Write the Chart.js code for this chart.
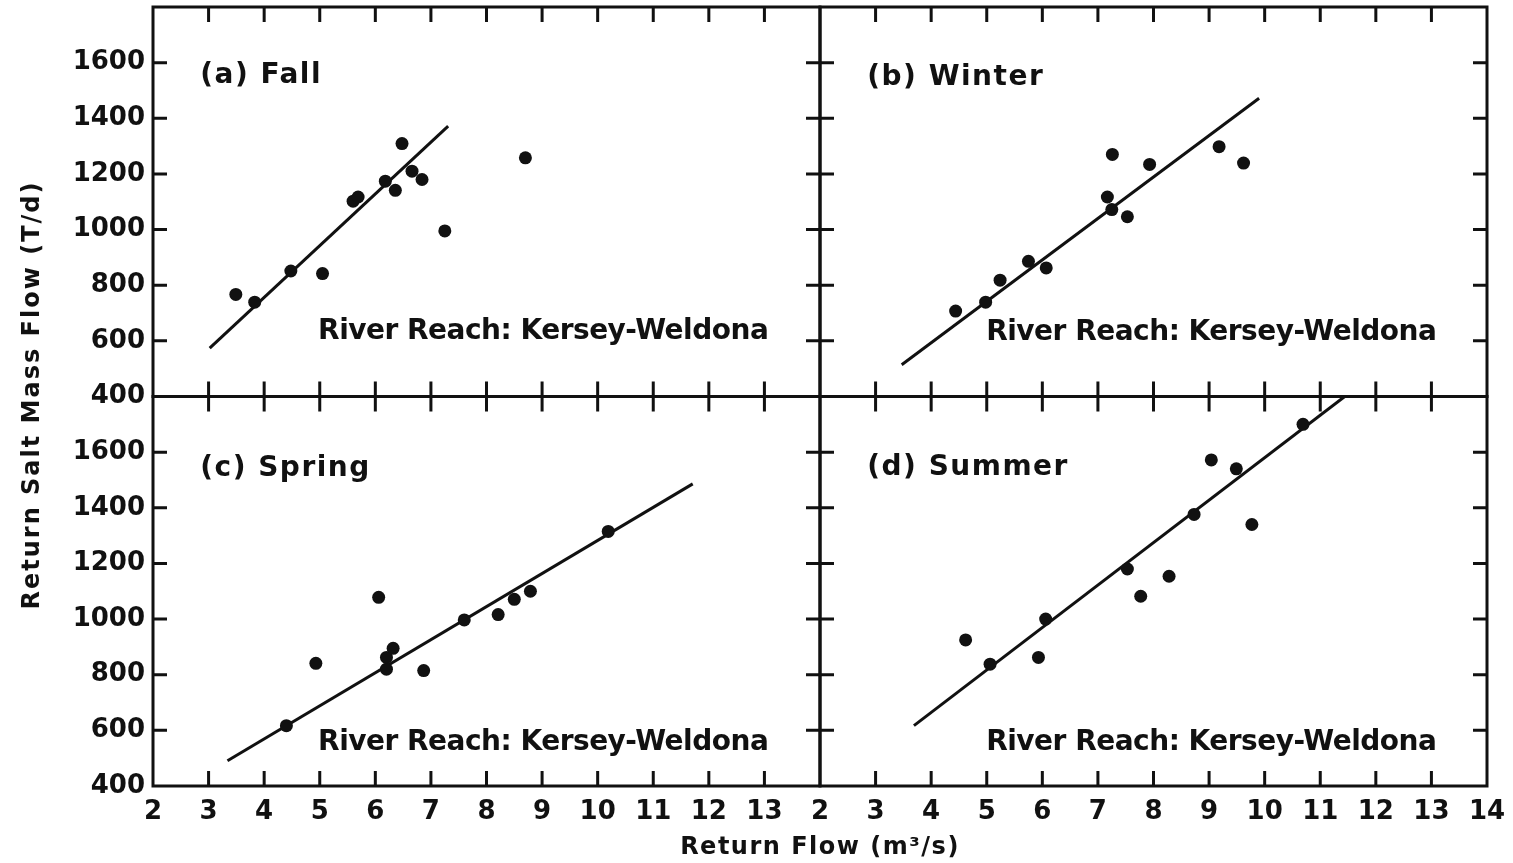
<!DOCTYPE html>
<html>
<head>
<meta charset="utf-8">
<script src="https://cdn.jsdelivr.net/npm/chart.js@4.4.1/dist/chart.umd.min.js"></script>
<style>
  html, body { margin: 0; padding: 0; background: #fff; }
  #wrap { width: 1513px; height: 863px; }
</style>
</head>
<body>
<div id="wrap"><canvas id="salt" width="1513" height="863"></canvas></div>
<script>
// values (x = return flow m3/s, y = salt mass flow T/d)
const fallX = [3.49, 3.83, 4.48, 5.05, 5.6, 5.69, 6.18, 6.36, 6.48, 6.66, 6.84, 7.25, 8.7];
const fallY = [767, 739, 851, 842, 1102, 1117, 1174, 1141, 1309, 1210, 1180, 995, 1258];
const fallLineX = [3.02, 7.31];
const fallLineY = [574, 1372];

const winterX = [4.44, 4.98, 5.24, 5.75, 6.07, 7.17, 7.25, 7.26, 7.53, 7.93, 9.18, 9.62];
const winterY = [707, 739, 818, 886, 862, 1117, 1072, 1270, 1046, 1234, 1298, 1239];
const winterLineX = [3.47, 9.9];
const winterLineY = [514, 1472];

const springX = [4.4, 4.93, 6.06, 6.2, 6.2, 6.32, 6.87, 7.6, 8.21, 8.5, 8.79, 10.19];
const springY = [617, 841, 1078, 820, 862, 895, 815, 997, 1016, 1071, 1100, 1315];
const springLineX = [3.34, 11.71];
const springLineY = [491, 1486];

const summerX = [4.62, 5.06, 5.93, 6.06, 7.53, 7.77, 8.28, 8.73, 9.04, 9.49, 9.77, 10.69];
const summerY = [925, 838, 862, 1000, 1180, 1082, 1154, 1376, 1572, 1540, 1340, 1700];
const summerLineX = [3.69, 11.44];
const summerLineY = [617, 1800];

const xTicks = [2, 3, 4, 5, 6, 7, 8, 9, 10, 11, 12, 13, 14];
const yTicks = [400, 600, 800, 1000, 1200, 1400, 1600];

const panelNames = ['(a) Fall', '(b) Winter', '(c) Spring', '(d) Summer'];
const reachLabel = 'River Reach: Kersey-Weldona';
const xTitle = 'Return Flow (m\u00b3/s)';
const yTitle = 'Return Salt Mass Flow (T/d)';

const INK = '#111';
const FONT = '"DejaVu Sans", sans-serif';

function pts(xs, ys) {
    return xs.map((x, i) => ({ x: x, y: ys[i] }));
}

function dots(xs, ys, xId, yId) {
    return {
        data: pts(xs, ys), xAxisID: xId, yAxisID: yId,
        pointRadius: 6.5, pointBackgroundColor: INK, pointBorderWidth: 0,
        showLine: false
    };
}

function fitLine(xs, ys, xId, yId) {
    return {
        data: pts(xs, ys), xAxisID: xId, yAxisID: yId,
        showLine: true, pointRadius: 0, borderColor: INK, borderWidth: 3
    };
}

function xAxis(hideLast) {
    return {
        type: 'linear', position: 'bottom', stack: 'flow', stackWeight: 1,
        min: 2, max: 14,
        grid: { display: false, drawTicks: false }, border: { display: false },
        afterFit: s => { s.height = 77; s.paddingLeft = 0; s.paddingRight = 0; },
        afterBuildTicks: s => { s.ticks = xTicks.map(v => ({ value: v })); },
        ticks: {
            autoSkip: false, maxRotation: 0, padding: 11, color: INK,
            font: { family: FONT, size: 26, weight: 'bold' },
            callback: v => (hideLast && v === 14) ? '' : String(v)
        }
    };
}

function yAxis() {
    return {
        type: 'linear', position: 'left', stack: 'salt', stackWeight: 1,
        min: 400, max: 1800,
        grid: { display: false, drawTicks: false }, border: { display: false },
        afterFit: s => { s.width = 153; s.paddingTop = 0; s.paddingBottom = 0; },
        afterBuildTicks: s => { s.ticks = yTicks.map(v => ({ value: v })); },
        ticks: {
            padding: 8, color: INK,
            font: { family: FONT, size: 26, weight: 'bold' },
            callback: v => String(v)
        }
    };
}

const panels = [
    { x: 'xL', y: 'yT', name: panelNames[0], nameAt: [2.85, 1552], reachAt: [4.97, 634] },
    { x: 'xR', y: 'yT', name: panelNames[1], nameAt: [2.85, 1545], reachAt: [4.99, 630] },
    { x: 'xL', y: 'yB', name: panelNames[2], nameAt: [2.85, 1542], reachAt: [4.97, 554] },
    { x: 'xR', y: 'yB', name: panelNames[3], nameAt: [2.85, 1545], reachAt: [4.99, 557] }
];

const framePlugin = {
    id: 'frames',
    afterDraw(chart) {
        const ctx = chart.ctx;
        ctx.save();
        ctx.strokeStyle = INK;
        ctx.lineWidth = 3;
        panels.forEach(p => {
            const xs = chart.scales[p.x], ys = chart.scales[p.y];
            const l = xs.left, r = xs.right, t = ys.top, b = ys.bottom;
            ctx.strokeRect(l, t, r - l, b - t);
            ctx.beginPath();
            for (let v = 3; v <= 13; v++) {
                const px = xs.getPixelForValue(v);
                ctx.moveTo(px, t); ctx.lineTo(px, t + 15);
                ctx.moveTo(px, b); ctx.lineTo(px, b - 15);
            }
            for (let v = 600; v <= 1600; v += 200) {
                const py = ys.getPixelForValue(v);
                ctx.moveTo(l, py); ctx.lineTo(l + 14, py);
                ctx.moveTo(r, py); ctx.lineTo(r - 14, py);
            }
            ctx.stroke();

            ctx.fillStyle = INK;
            ctx.textBaseline = 'middle';
            ctx.textAlign = 'left';
            ctx.font = 'bold 28px ' + FONT;
            ctx.letterSpacing = '1.5px';
            ctx.fillText(p.name, xs.getPixelForValue(p.nameAt[0]), ys.getPixelForValue(p.nameAt[1]));
            ctx.letterSpacing = '-0.5px';
            ctx.fillText(reachLabel, xs.getPixelForValue(p.reachAt[0]), ys.getPixelForValue(p.reachAt[1]));
        });

        // shared axis titles
        const area = chart.chartArea;
        ctx.font = 'bold 24px ' + FONT;
        ctx.textAlign = 'center';
        ctx.letterSpacing = '1.5px';
        ctx.fillText(xTitle, (area.left + area.right) / 2, 848);
        ctx.letterSpacing = '2px';
        ctx.translate(33, 395);
        ctx.rotate(-Math.PI / 2);
        ctx.fillText(yTitle, 0, 0);
        ctx.restore();
    }
};

new Chart(document.getElementById('salt'), {
    type: 'scatter',
    data: {
        datasets: [
            dots(fallX, fallY, 'xL', 'yT'), fitLine(fallLineX, fallLineY, 'xL', 'yT'),
            dots(winterX, winterY, 'xR', 'yT'), fitLine(winterLineX, winterLineY, 'xR', 'yT'),
            dots(springX, springY, 'xL', 'yB'), fitLine(springLineX, springLineY, 'xL', 'yB'),
            dots(summerX, summerY, 'xR', 'yB'), fitLine(summerLineX, summerLineY, 'xR', 'yB')
        ]
    },
    options: {
        responsive: false,
        animation: false,
        layout: { padding: { top: 7, right: 26, bottom: 0, left: 0 } },
        plugins: { legend: { display: false }, tooltip: { enabled: false } },
        // left-side stacks are laid out in reverse order, so the lower panel's axis comes first
        scales: { xL: xAxis(true), xR: xAxis(false), yB: yAxis(), yT: yAxis() }
    },
    plugins: [framePlugin]
});
</script>
</body>
</html>
